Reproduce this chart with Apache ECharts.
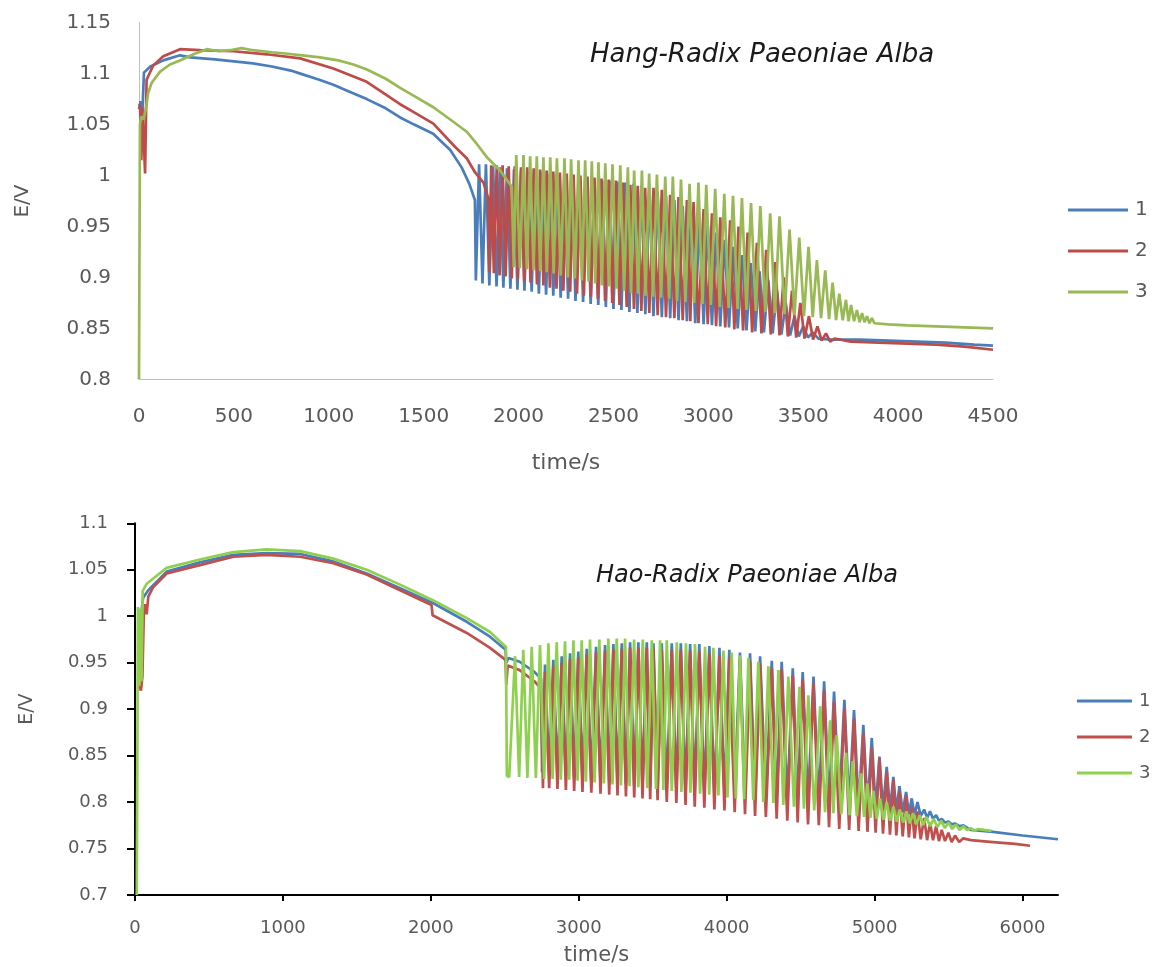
<!DOCTYPE html>
<html>
<head>
<meta charset="utf-8">
<script src="https://cdn.jsdelivr.net/npm/echarts@6/dist/echarts.min.js"></script>
<style>
  html, body { margin: 0; padding: 0; background: #ffffff; }
  #chart { width: 1153px; height: 967px; }
</style>
</head>
<body>
<div id="chart"></div>
<script>
// ---- Hang-Radix Paeoniae Alba: potential E/V against time/s, runs 1-3 ----
const hangNames = ['1', '2', '3'];
const hangXTicks = [0, 500, 1000, 1500, 2000, 2500, 3000, 3500, 4000, 4500];

const hangRun1 = [
  [0,1.065],[8,1.073],[18,1.062],[26,1.101],[60,1.107],[128,1.113],[216,1.118],[270,1.116],
  [400,1.114],[500,1.112],[600,1.110],[700,1.107],[800,1.103],[850,1.100],[950,1.094],[1024,1.089],
  [1100,1.083],[1200,1.075],[1300,1.066],[1376,1.057],[1450,1.050],[1550,1.041],[1640,1.025],
  [1700,1.008],[1740,0.992],[1770,0.976],
  [1775,0.897],[1792,1.011],[1810,0.894],[1828,1.011],[1846,0.892],[1866,1.009],[1884,0.891],[1902,1.008],
  [1920,0.890],[1939,1.007],[1957,0.889],[1976,1.006],[1994,0.888],[2013,1.005],[2031,0.887],[2050,1.004],
  [2069,0.886],[2088,1.004],[2107,0.884],[2126,1.003],[2145,0.883],[2164,1.002],[2183,0.882],[2203,1.001],
  [2222,0.880],[2242,1.000],[2261,0.879],[2281,0.999],[2300,0.877],[2320,0.998],[2340,0.876],[2360,0.997],
  [2380,0.874],[2400,0.996],[2420,0.873],[2440,0.995],[2460,0.871],[2480,0.995],[2500,0.869],[2521,0.994],
  [2542,0.868],[2563,0.993],[2584,0.866],[2605,0.992],[2626,0.865],[2647,0.990],[2668,0.864],[2689,0.987],
  [2711,0.862],[2733,0.984],[2755,0.861],[2777,0.980],[2799,0.860],[2821,0.976],[2843,0.858],[2865,0.970],
  [2887,0.857],[2909,0.964],[2931,0.855],[2953,0.958],[2975,0.854],[2997,0.951],[3019,0.853],[3041,0.944],
  [3063,0.852],[3086,0.937],[3109,0.851],[3132,0.930],[3155,0.850],[3178,0.922],[3201,0.848],[3224,0.914],
  [3247,0.847],[3270,0.906],[3293,0.846],[3316,0.897],[3339,0.845],[3362,0.887],[3385,0.844],[3408,0.875],
  [3431,0.843],[3454,0.862],[3477,0.842],[3500,0.852],[3525,0.841],[3550,0.846],[3580,0.840],
  [3650,0.839],[3800,0.839],[3950,0.838],[4100,0.837],[4250,0.836],[4400,0.834],[4500,0.833]
];

const hangRun2 = [
  [0,1.070],[6,1.068],[12,1.015],[18,1.066],[26,1.030],[32,1.002],[40,1.094],[75,1.108],[128,1.117],
  [216,1.124],[322,1.123],[497,1.122],[673,1.119],[849,1.115],[1024,1.105],[1200,1.092],[1376,1.070],
  [1450,1.062],[1551,1.051],[1666,1.028],[1727,1.017],[1771,1.003],[1815,0.993],[1840,0.978],
  [1846,0.905],[1856,1.010],[1870,0.904],[1885,1.010],[1900,0.902],[1916,1.010],[1932,0.901],[1948,1.009],
  [1964,0.899],[1980,1.009],[1996,0.898],[2013,1.008],[2030,0.896],[2046,1.008],[2063,0.895],[2080,1.007],
  [2097,0.893],[2114,1.006],[2131,0.892],[2148,1.005],[2165,0.890],[2183,1.004],[2200,0.889],[2218,1.003],
  [2236,0.887],[2254,1.002],[2272,0.886],[2290,1.001],[2308,0.884],[2326,1.000],[2344,0.882],[2363,0.999],
  [2381,0.881],[2400,0.998],[2418,0.879],[2437,0.997],[2456,0.877],[2475,0.996],[2494,0.875],[2513,0.995],
  [2532,0.873],[2551,0.993],[2570,0.871],[2589,0.991],[2608,0.869],[2628,0.990],[2647,0.867],[2667,0.988],
  [2689,0.865],[2711,0.988],[2733,0.863],[2755,0.986],[2777,0.861],[2799,0.981],[2821,0.860],[2843,0.979],
  [2865,0.858],[2887,0.976],[2905,0.857],[2922,0.974],[2948,0.855],[2975,0.967],[2997,0.854],[3019,0.963],
  [3041,0.852],[3063,0.959],[3089,0.851],[3115,0.956],[3137,0.849],[3159,0.950],[3183,0.848],[3207,0.944],
  [3231,0.846],[3256,0.934],[3280,0.845],[3305,0.927],[3329,0.844],[3353,0.915],[3375,0.843],[3397,0.900],
  [3419,0.842],[3441,0.887],[3463,0.841],[3485,0.875],[3507,0.840],[3530,0.862],[3552,0.839],[3575,0.852],
  [3597,0.838],[3620,0.845],[3642,0.837],[3665,0.840],
  [3750,0.837],[3900,0.836],[4050,0.835],[4200,0.834],[4350,0.832],[4500,0.829]
];

const hangRun3 = [
  [0,0.800],[5,1.050],[12,1.058],[25,1.055],[40,1.070],[48,1.081],[67,1.091],[111,1.102],[163,1.109],
  [216,1.113],[287,1.119],[357,1.124],[420,1.122],[480,1.123],[540,1.125],[600,1.123],[700,1.121],
  [760,1.120],[860,1.118],[954,1.116],[1050,1.113],[1130,1.109],[1201,1.104],[1300,1.095],[1376,1.086],
  [1460,1.077],[1551,1.067],[1640,1.055],[1727,1.043],[1780,1.031],[1833,1.018],[1903,1.005],[1964,0.989],
  [1975,0.910],[1988,1.020],[2007,0.909],[2026,1.020],[2044,0.908],[2061,1.019],[2079,0.907],[2096,1.019],
  [2114,0.906],[2131,1.018],[2149,0.905],[2167,1.018],[2185,0.904],[2202,1.017],[2222,0.902],[2242,1.017],
  [2260,0.900],[2277,1.016],[2297,0.899],[2316,1.015],[2334,0.897],[2351,1.015],[2369,0.896],[2386,1.014],
  [2404,0.894],[2421,1.013],[2439,0.892],[2457,1.012],[2476,0.891],[2495,1.011],[2516,0.889],[2536,1.010],
  [2556,0.887],[2576,1.008],[2593,0.885],[2609,1.005],[2630,0.884],[2650,1.005],[2669,0.882],[2688,1.002],
  [2709,0.881],[2729,1.001],[2751,0.880],[2773,0.999],[2793,0.879],[2813,0.999],[2835,0.877],[2856,0.996],
  [2879,0.876],[2901,0.992],[2925,0.875],[2948,0.993],[2969,0.874],[2989,0.991],[3013,0.873],[3036,0.987],
  [3060,0.871],[3084,0.982],[3107,0.870],[3130,0.980],[3154,0.869],[3177,0.978],[3201,0.868],[3225,0.973],
  [3250,0.867],[3274,0.970],[3300,0.866],[3326,0.963],[3351,0.865],[3375,0.960],[3402,0.864],[3428,0.947],
  [3454,0.863],[3479,0.939],[3504,0.862],[3528,0.930],[3550,0.861],[3572,0.917],[3594,0.860],[3616,0.907],
  [3636,0.859],[3655,0.895],[3673,0.858],[3690,0.884],[3708,0.858],[3725,0.878],[3739,0.857],[3752,0.873],
  [3768,0.857],[3783,0.868],[3797,0.856],[3810,0.865],[3823,0.856],[3836,0.862],[3849,0.855],[3862,0.860],
  [3875,0.855],[3950,0.854],[4050,0.853],[4200,0.852],[4350,0.851],[4500,0.850]
];

// ---- Hao-Radix Paeoniae Alba: potential E/V against time/s, runs 1-3 ----
const haoNames = ['1', '2', '3'];
const haoXTicks = [0, 1000, 2000, 3000, 4000, 5000, 6000];

const haoRun1 = [
  [40,1.000],[55,1.020],[90,1.028],[214,1.048],[439,1.058],[665,1.066],[890,1.068],[1116,1.067],
  [1341,1.059],[1566,1.046],[1792,1.030],[2017,1.014],[2243,0.994],[2400,0.978],[2505,0.964],
  [2510,0.950],[2525,0.955],[2600,0.951],[2700,0.940],[2745,0.933],
  [2752,0.832],[2772,0.948],[2800,0.830],[2828,0.953],[2856,0.829],[2885,0.957],[2913,0.828],[2941,0.960],
  [2969,0.826],[2997,0.962],[3025,0.825],[3054,0.965],[3085,0.824],[3117,0.967],[3147,0.822],[3178,0.969],
  [3206,0.821],[3234,0.970],[3262,0.820],[3291,0.971],[3319,0.819],[3347,0.972],[3375,0.818],[3403,0.972],
  [3431,0.817],[3460,0.972],[3483,0.816],[3505,0.971],[3533,0.815],[3561,0.971],[3595,0.814],[3629,0.971],
  [3660,0.813],[3690,0.971],[3722,0.812],[3753,0.970],[3784,0.811],[3815,0.970],[3849,0.810],[3883,0.968],
  [3917,0.809],[3951,0.966],[3985,0.808],[4018,0.964],[4054,0.807],[4090,0.961],[4124,0.806],[4158,0.960],
  [4192,0.805],[4226,0.957],[4265,0.804],[4305,0.952],[4338,0.803],[4372,0.951],[4410,0.802],[4447,0.944],
  [4480,0.801],[4514,0.940],[4550,0.800],[4587,0.935],[4623,0.799],[4659,0.930],[4692,0.798],[4726,0.919],
  [4761,0.797],[4796,0.910],[4828,0.796],[4861,0.899],[4892,0.795],[4924,0.883],[4952,0.794],[4981,0.869],
  [5007,0.793],[5033,0.849],[5057,0.792],[5082,0.838],[5104,0.791],[5127,0.827],[5147,0.790],[5168,0.817],
  [5190,0.789],[5213,0.811],[5232,0.787],[5251,0.804],[5270,0.786],[5290,0.800],[5312,0.785],[5335,0.792],
  [5355,0.783],[5375,0.790],[5395,0.782],[5416,0.786],[5435,0.780],[5454,0.782],[5476,0.778],[5499,0.779],
  [5521,0.776],[5544,0.777],[5572,0.774],[5600,0.775],
  [5650,0.770],[5800,0.768],[6000,0.764],[6240,0.760]
];

const haoRun2 = [
  [30,0.925],[40,0.920],[50,0.935],[60,1.005],[68,1.013],[79,1.002],[90,1.021],[122,1.031],[214,1.046],
  [439,1.055],[665,1.064],[890,1.066],[1116,1.064],[1341,1.057],[1566,1.045],[1792,1.028],[2005,1.012],
  [2012,1.001],[2243,0.982],[2400,0.966],[2505,0.953],[2510,0.926],[2520,0.947],[2600,0.942],[2700,0.930],
  [2745,0.922],
  [2758,0.815],[2772,0.940],[2800,0.815],[2828,0.946],[2856,0.814],[2885,0.950],[2913,0.813],[2941,0.954],
  [2969,0.812],[2997,0.956],[3025,0.811],[3054,0.959],[3085,0.810],[3117,0.961],[3147,0.809],[3178,0.963],
  [3206,0.808],[3234,0.964],[3262,0.807],[3291,0.965],[3319,0.806],[3347,0.966],[3375,0.805],[3403,0.966],
  [3431,0.804],[3460,0.966],[3483,0.803],[3505,0.965],[3533,0.802],[3561,0.964],[3595,0.800],[3629,0.964],
  [3660,0.799],[3690,0.964],[3722,0.797],[3753,0.963],[3784,0.795],[3815,0.962],[3849,0.794],[3883,0.960],
  [3917,0.792],[3951,0.958],[3985,0.791],[4018,0.956],[4054,0.789],[4090,0.953],[4124,0.787],[4158,0.952],
  [4192,0.785],[4226,0.949],[4265,0.784],[4305,0.944],[4338,0.782],[4372,0.943],[4410,0.780],[4447,0.936],
  [4480,0.778],[4514,0.932],[4550,0.776],[4587,0.927],[4623,0.775],[4659,0.920],[4692,0.773],[4726,0.908],
  [4761,0.771],[4796,0.901],[4828,0.770],[4861,0.890],[4892,0.769],[4924,0.874],[4952,0.768],[4981,0.858],
  [5007,0.767],[5033,0.847],[5057,0.766],[5082,0.833],[5104,0.765],[5127,0.824],[5147,0.764],[5168,0.812],
  [5190,0.763],[5213,0.807],[5232,0.762],[5251,0.795],[5270,0.761],[5290,0.790],[5312,0.760],[5335,0.783],
  [5355,0.759],[5375,0.778],[5395,0.759],[5416,0.774],[5435,0.758],[5454,0.770],[5476,0.758],[5499,0.767],
  [5521,0.757],[5544,0.764],[5572,0.757],[5600,0.761],
  [5650,0.759],[5800,0.757],[5950,0.755],[6051,0.753]
];

const haoRun3 = [
  [12,0.700],[20,1.010],[28,0.925],[36,1.008],[44,0.930],[52,1.027],[60,1.025],[79,1.035],[214,1.052],
  [439,1.061],[665,1.069],[890,1.072],[1116,1.070],[1341,1.062],[1566,1.050],[1792,1.034],[2017,1.017],
  [2243,0.998],[2400,0.983],[2508,0.967],
  [2514,0.828],[2530,0.827],[2569,0.957],[2597,0.827],[2625,0.964],[2653,0.826],[2682,0.967],[2710,0.826],
  [2738,0.969],[2766,0.825],[2795,0.971],[2823,0.825],[2851,0.972],[2879,0.824],[2907,0.973],[2935,0.824],
  [2964,0.974],[2992,0.823],[3020,0.974],[3048,0.822],[3076,0.975],[3107,0.821],[3139,0.975],[3170,0.820],
  [3200,0.976],[3228,0.819],[3257,0.976],[3285,0.818],[3313,0.976],[3343,0.817],[3374,0.975],[3403,0.816],
  [3433,0.975],[3463,0.815],[3494,0.974],[3522,0.814],[3550,0.974],[3572,0.813],[3595,0.974],[3629,0.812],
  [3663,0.972],[3694,0.811],[3725,0.971],[3755,0.810],[3786,0.970],[3820,0.809],[3854,0.967],[3882,0.808],
  [3910,0.966],[3944,0.807],[3978,0.963],[4006,0.805],[4034,0.961],[4062,0.804],[4090,0.958],[4118,0.803],
  [4147,0.955],[4180,0.802],[4214,0.951],[4248,0.800],[4282,0.946],[4316,0.799],[4350,0.942],[4383,0.797],
  [4417,0.935],[4455,0.795],[4492,0.924],[4522,0.793],[4552,0.915],[4592,0.791],[4632,0.903],[4665,0.789],
  [4699,0.888],[4722,0.788],[4744,0.872],[4775,0.787],[4807,0.853],[4830,0.786],[4852,0.844],[4880,0.785],
  [4907,0.831],[4929,0.784],[4951,0.820],[4972,0.783],[4992,0.812],[5015,0.782],[5037,0.804],[5060,0.781],
  [5082,0.800],[5105,0.780],[5127,0.795],[5150,0.779],[5170,0.792],[5193,0.778],[5215,0.790],[5238,0.777],
  [5260,0.788],[5283,0.776],[5305,0.786],[5328,0.775],[5350,0.784],[5375,0.774],[5400,0.782],[5425,0.773],
  [5450,0.780],[5475,0.772],[5500,0.778],[5525,0.771],[5550,0.776],[5575,0.770],[5600,0.774],[5625,0.770],
  [5650,0.772],[5675,0.769],[5700,0.771],[5740,0.770],[5790,0.769]
];

const hangColors = ['#4a7ebb', '#be4b48', '#98b954'];
const haoColors = ['#4a7ebb', '#c0504d', '#8fd14f'];

const labelGrey = '#595959';
const fontMain = 'DejaVu Sans';

const chart = echarts.init(document.getElementById('chart'), null, { renderer: 'canvas' });

const fmtE = v => String(+v.toFixed(2));
const fmtT = v => String(Math.round(v));

function lineSeries(name, data, color, axisIdx) {
  return {
    name: name,
    type: 'line',
    xAxisIndex: axisIdx,
    yAxisIndex: axisIdx,
    data: data,
    symbol: 'none',
    showSymbol: false,
    smooth: false,
    lineStyle: { width: 2.7, color: color },
    itemStyle: { color: color },
    emphasis: { disabled: true },
    z: 2
  };
}

// legend keys are drawn as short thick bars so they read as line samples
function legendItems(names, colors) {
  return names.map((n, i) => ({ name: n, icon: 'rect', itemStyle: { color: colors[i] } }));
}

const option = {
  animation: false,
  backgroundColor: '#ffffff',
  title: [
    {
      text: 'Hang-Radix Paeoniae Alba',
      left: 590, top: 42, padding: 0,
      textStyle: { fontFamily: fontMain, fontStyle: 'italic', fontWeight: 'normal', fontSize: 26, color: '#1a1a1a' }
    },
    {
      text: 'Hao-Radix Paeoniae Alba',
      left: 596, top: 564, padding: 0,
      textStyle: { fontFamily: fontMain, fontStyle: 'italic', fontWeight: 'normal', fontSize: 24, color: '#1a1a1a' }
    }
  ],
  legend: [
    {
      orient: 'vertical',
      left: 1068, top: 200,
      itemWidth: 60, itemHeight: 3, itemGap: 21,
      padding: 0,
      data: legendItems(hangNames, hangColors),
      textStyle: { fontFamily: fontMain, fontSize: 20, color: labelGrey, padding: [0, 0, 0, 2] },
      selectedMode: false
    },
    {
      orient: 'vertical',
      left: 1077, top: 692,
      itemWidth: 55, itemHeight: 3, itemGap: 18,
      padding: 0,
      data: legendItems(haoNames, haoColors),
      textStyle: { fontFamily: fontMain, fontSize: 18, color: labelGrey, padding: [0, 0, 0, 2] },
      selectedMode: false
    }
  ],
  grid: [
    { left: 139, top: 22.7, width: 854, height: 356.6, containLabel: false },
    { left: 135, top: 523.3, width: 923, height: 371.7, containLabel: false }
  ],
  xAxis: [
    {
      gridIndex: 0, type: 'value', min: 0, max: 4500, interval: 500,
      name: 'time/s', nameLocation: 'middle', nameGap: 73,
      nameTextStyle: { fontFamily: fontMain, fontSize: 22, color: labelGrey },
      axisLine: { show: true, onZero: false, lineStyle: { color: '#bfbfbf', width: 1 } },
      axisTick: { show: false },
      splitLine: { show: false },
      axisLabel: { margin: 27, fontFamily: fontMain, fontSize: 20, color: labelGrey, formatter: fmtT,
                   customValues: hangXTicks }
    },
    {
      gridIndex: 1, type: 'value', min: 0, max: 6240, interval: 1000,
      name: 'time/s', nameLocation: 'middle', nameGap: 50,
      nameTextStyle: { fontFamily: fontMain, fontSize: 21, color: labelGrey },
      axisLine: { show: true, onZero: false, lineStyle: { color: '#000000', width: 2 } },
      axisTick: { show: true, inside: false, length: 6, lineStyle: { color: '#000000', width: 2 },
                  customValues: haoXTicks },
      splitLine: { show: false },
      axisLabel: { margin: 24, fontFamily: fontMain, fontSize: 18, color: labelGrey, formatter: fmtT,
                   customValues: haoXTicks }
    }
  ],
  yAxis: [
    {
      gridIndex: 0, type: 'value', min: 0.8, max: 1.15, interval: 0.05,
      name: 'E/V', nameLocation: 'middle', nameGap: 106, nameRotate: 90,
      nameTextStyle: { fontFamily: fontMain, fontSize: 20, color: labelGrey },
      axisLine: { show: true, onZero: false, lineStyle: { color: '#bfbfbf', width: 1 } },
      axisTick: { show: false },
      splitLine: { show: false },
      axisLabel: { margin: 28, fontFamily: fontMain, fontSize: 20, color: labelGrey, formatter: fmtE }
    },
    {
      gridIndex: 1, type: 'value', min: 0.7, max: 1.1, interval: 0.05,
      name: 'E/V', nameLocation: 'middle', nameGap: 98, nameRotate: 90,
      nameTextStyle: { fontFamily: fontMain, fontSize: 19, color: labelGrey },
      axisLine: { show: true, onZero: false, lineStyle: { color: '#000000', width: 2 } },
      axisTick: { show: true, inside: false, length: 8, lineStyle: { color: '#000000', width: 2 } },
      splitLine: { show: false },
      axisLabel: { margin: 27, fontFamily: fontMain, fontSize: 18, color: labelGrey, formatter: fmtE }
    }
  ],
  series: [
    lineSeries(hangNames[0], hangRun1, hangColors[0], 0),
    lineSeries(hangNames[1], hangRun2, hangColors[1], 0),
    lineSeries(hangNames[2], hangRun3, hangColors[2], 0),
    lineSeries(haoNames[0], haoRun1, haoColors[0], 1),
    lineSeries(haoNames[1], haoRun2, haoColors[1], 1),
    lineSeries(haoNames[2], haoRun3, haoColors[2], 1)
  ]
};

chart.setOption(option);
</script>
</body>
</html>
